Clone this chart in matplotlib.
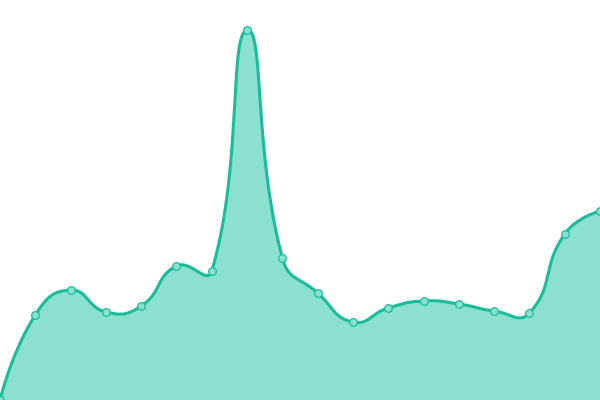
import numpy as np
import matplotlib
matplotlib.use('Agg')
import matplotlib.pyplot as plt


# значения серии (читаются с картинки)
values = [0, 85, 110, 88, 94, 134, 129, 370, 142, 107, 78, 92, 99, 96, 89, 87, 166, 189]
positions = list(range(len(values)))

LINE = '#1abc9c'
FILL = '#8be0cf'


# сглаживание как в echarts: кривые Безье с контрольными точками
def smooth_path(pts, smooth=0.5, steps=40):
    n = len(pts)
    cps = []
    for i in range(n):
        p = pts[i]
        prev = pts[i - 1] if i > 0 else None
        nxt = pts[i + 1] if i < n - 1 else None
        if prev is None or nxt is None:
            cps.append((p, p))
            continue
        v = (nxt - prev) * smooth
        d0 = np.hypot(*(p - prev))
        d1 = np.hypot(*(p - nxt))
        s = d0 + d1
        if s:
            d0, d1 = d0 / s, d1 / s
        cps.append((p - v * d0, p + v * d1))
    t = np.linspace(0, 1, steps)[:, None]
    out = [pts[0][None, :]]
    for i in range(n - 1):
        a, b = pts[i], pts[i + 1]
        c1, c2 = cps[i][1], cps[i + 1][0]
        seg = ((1 - t) ** 3) * a + 3 * ((1 - t) ** 2) * t * c1 + 3 * (1 - t) * t ** 2 * c2 + t ** 3 * b
        out.append(seg[1:])
    return np.vstack(out)


fig = plt.figure(figsize=(6, 4), dpi=100)
ax = fig.add_axes([0, 0, 1, 1])
ax.set_xlim(0, len(values) - 1)
ax.set_ylim(0, 400)
ax.axis('off')

# считаем кривую в координатах экрана, потом обратно в данные
disp = ax.transData.transform(np.column_stack([positions, values]))
curve = ax.transData.inverted().transform(smooth_path(disp))

ax.fill_between(curve[:, 0], curve[:, 1], 0, color=FILL, linewidth=0)
ax.plot(curve[:, 0], curve[:, 1], color=LINE, linewidth=2.2, solid_capstyle='round')
ax.plot(positions, values, linestyle='none', marker='o', markersize=5.5,
        markerfacecolor=FILL, markeredgecolor=LINE, markeredgewidth=0.9)

fig.savefig('out.png', dpi=100)
